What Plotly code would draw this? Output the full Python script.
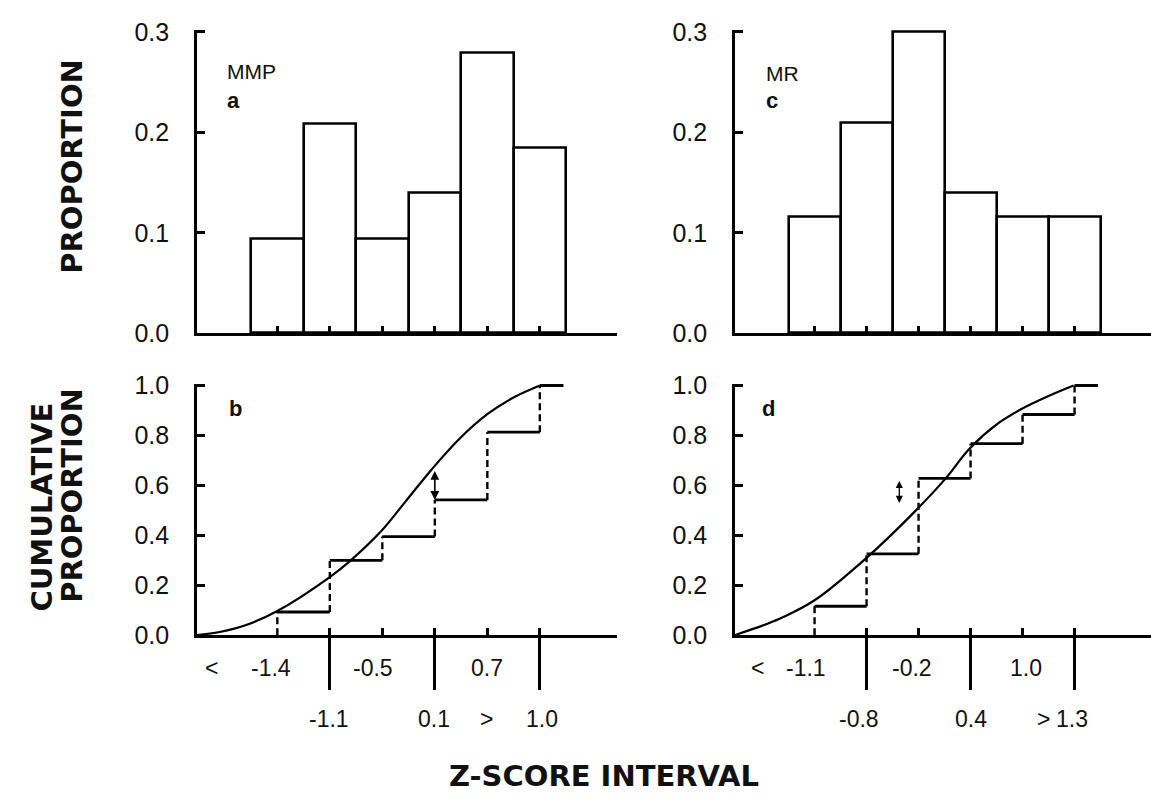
import plotly.graph_objects as go

# ---------------- data ----------------
bins = [0, 1, 2, 3, 4, 5]                      # interval index
mmp_prop = [0.094, 0.208, 0.094, 0.140, 0.279, 0.185]
mr_prop = [0.116, 0.209, 0.300, 0.140, 0.116, 0.116]

mmp_cum = [0.093, 0.300, 0.395, 0.542, 0.813, 1.0]
mr_cum = [0.116, 0.326, 0.628, 0.767, 0.884, 1.0]

# theoretical cumulative curves (in interval units)
mmp_curve_x = [-1.56, -1.1, -0.58, 0.0, 0.98, 1.40, 1.98, 2.44, 2.94, 3.46, 4.0, 4.48, 5.0]
mmp_curve_y = [0.0, 0.013, 0.042, 0.097, 0.23, 0.30, 0.417, 0.535, 0.664, 0.785, 0.885, 0.950, 1.0]
mr_curve_x = [-1.54, -0.92, -0.61, 0.0, 1.0, 1.95, 2.53, 2.97, 3.54, 3.97, 4.5, 4.98]
mr_curve_y = [0.0, 0.045, 0.072, 0.14, 0.31, 0.50, 0.63, 0.745, 0.85, 0.905, 0.958, 1.0]

# maximum deviation markers: [x, lower y, upper y]
mmp_dev = [3.0, 0.542, 0.664]
mr_dev = [1.63, 0.53, 0.624]

# z-score interval labels
mmp_upper_labels = ["<", "-1.4", "-0.5", "0.7"]
mmp_upper_pos = [-1.25, -0.13, 1.83, 4.0]
mmp_lower_labels = ["-1.1", "0.1", ">", "1.0"]
mmp_lower_pos = [0.98, 2.98, 3.98, 5.04]
mr_upper_labels = ["<", "-1.1", "-0.2", "1.0"]
mr_upper_pos = [-1.1, -0.17, 1.87, 4.06]
mr_lower_labels = ["-0.8", "0.4", ">", "1.3"]
mr_lower_pos = [0.85, 3.0, 4.4, 4.95]

# ---------------- figure ----------------
W, H = 1151, 806
BLACK = "#000000"
XR = [-1.53, 6.47]
LEFT_DOM = [197 / W, 617 / W]
RIGHT_DOM = [735 / W, 1.0]
TOP_DOM = [(H - 332) / H, (H - 18.4) / H]
BOT_DOM = [(H - 644) / H, (H - 383.9) / H]
END_EXT = 0.45

fig = go.Figure()

def add_hist(vals, xa, ya):
    fig.add_trace(go.Bar(
        x=bins, y=vals, width=1.0, xaxis=xa, yaxis=ya,
        marker=dict(color="white", line=dict(color=BLACK, width=2.6)),
        showlegend=False, hoverinfo="skip"))

def add_cum(cum, cx, cy, xa, ya):
    hx, hy, vx, vy = [], [], [], []
    prev = 0.0
    for i, c in enumerate(cum):
        vx += [bins[i], bins[i], None]
        vy += [prev, c, None]
        x_end = bins[i + 1] if i + 1 < len(bins) else bins[i] + END_EXT
        hx += [bins[i], x_end, None]
        hy += [c, c, None]
        prev = c
    fig.add_trace(go.Scatter(x=cx, y=cy, mode="lines", xaxis=xa, yaxis=ya,
                             line=dict(color=BLACK, width=2.2, shape="spline", smoothing=1.0),
                             showlegend=False, hoverinfo="skip"))
    fig.add_trace(go.Scatter(x=vx, y=vy, mode="lines", xaxis=xa, yaxis=ya,
                             line=dict(color=BLACK, width=2.4, dash="7px,4px"),
                             showlegend=False, hoverinfo="skip"))
    fig.add_trace(go.Scatter(x=hx, y=hy, mode="lines", xaxis=xa, yaxis=ya,
                             line=dict(color=BLACK, width=2.8),
                             showlegend=False, hoverinfo="skip"))

add_hist(mmp_prop, "x", "y")
add_hist(mr_prop, "x2", "y2")
add_cum(mmp_cum, mmp_curve_x, mmp_curve_y, "x3", "y3")
add_cum(mr_cum, mr_curve_x, mr_curve_y, "x4", "y4")
# empty traces so that the overlay tick axes get drawn
fig.add_trace(go.Scatter(x=[], y=[], xaxis="x5", yaxis="y3", showlegend=False))
fig.add_trace(go.Scatter(x=[], y=[], xaxis="x6", yaxis="y4", showlegend=False))

tickfont = dict(family="Liberation Sans, Arial, sans-serif", size=25, color="#111")

def xax(dom, anchor, ticks, tickvals, ticklen, showline=True, overlay=None):
    d = dict(domain=dom, anchor=anchor, range=XR, showgrid=False, zeroline=False,
             showline=showline, linecolor=BLACK, linewidth=2.6,
             ticks=ticks, tickvals=tickvals, ticklen=ticklen, tickwidth=2.6,
             tickcolor=BLACK, showticklabels=False, fixedrange=True)
    if overlay:
        d["overlaying"] = overlay
        d.pop("domain")
    return d

def yax(dom, anchor, rng, vals, texts):
    return dict(domain=dom, anchor=anchor, range=rng, showgrid=False, zeroline=False,
                showline=True, linecolor=BLACK, linewidth=2.6,
                ticks="inside", tickvals=vals, ticktext=texts, ticklen=8, tickwidth=2.6,
                tickcolor=BLACK, tickfont=tickfont, ticklabelstandoff=20, fixedrange=True)

top_vals = [0, 0.1, 0.2, 0.3]
top_txt = ["0.0", "0.1", "0.2", "0.3"]
bot_vals = [0, 0.2, 0.4, 0.6, 0.8, 1.0]
bot_txt = ["0.0", "0.2", "0.4", "0.6", "0.8", "1.0"]

fig.update_layout(
    width=W, height=H, margin=dict(l=0, r=0, t=0, b=0, pad=0),
    paper_bgcolor="white", plot_bgcolor="rgba(0,0,0,0)",
    bargap=0, showlegend=False,
    xaxis=xax(LEFT_DOM, "y", "inside", bins, 7),
    xaxis2=xax(RIGHT_DOM, "y2", "inside", bins, 7),
    xaxis3=xax(LEFT_DOM, "y3", "outside", [1, 3, 5], 52),
    xaxis4=xax(RIGHT_DOM, "y4", "outside", [1, 3, 5], 52),
    xaxis5=xax(LEFT_DOM, "y3", "inside", [1, 2, 3, 4, 5], 7, showline=False, overlay="x3"),
    xaxis6=xax(RIGHT_DOM, "y4", "inside", [1, 2, 3, 4, 5], 7, showline=False, overlay="x4"),
    yaxis=yax(TOP_DOM, "x", [0, 0.302], top_vals, top_txt),
    yaxis2=yax(TOP_DOM, "x2", [0, 0.302], top_vals, top_txt),
    yaxis3=yax(BOT_DOM, "x3", [0, 1.008], bot_vals, bot_txt),
    yaxis4=yax(BOT_DOM, "x4", [0, 1.008], bot_vals, bot_txt),
)

ann = []
def paper_y(py):
    return (H - py) / H

label_font = dict(family="Liberation Sans, Arial, sans-serif", size=23, color="#111")
for texts, pos, xr, py in [
    (mmp_upper_labels, mmp_upper_pos, "x3", 678),
    (mmp_lower_labels, mmp_lower_pos, "x3", 731),
    (mr_upper_labels, mr_upper_pos, "x4", 678),
    (mr_lower_labels, mr_lower_pos, "x4", 731),
]:
    for t, p in zip(texts, pos):
        ann.append(dict(text=t, x=p, xref=xr, y=paper_y(py), yref="paper",
                        showarrow=False, xanchor="center", yanchor="middle", font=label_font))

# panel labels
reg = dict(family="Liberation Sans, Arial, sans-serif", size=21, color="#111")
bold = dict(family="Liberation Sans, Arial, sans-serif", size=22, color="#111", weight="bold")
def corner(text, px, py, font):
    return dict(text=text, x=px / W, y=paper_y(py), xref="paper", yref="paper",
                showarrow=False, xanchor="left", yanchor="middle", font=font, borderpad=0)
ann += [
    corner("MMP", 226, 62, reg),
    corner("<b>a</b>", 226, 91, bold),
    corner("MR", 765, 64, reg),
    corner("<b>c</b>", 765, 91, bold),
    corner("<b>b</b>", 228, 410, bold),
    corner("<b>d</b>", 761, 410, bold),
]

# axis titles
tfont = dict(family="DejaVu Sans, sans-serif", size=29, color="#111")
def title(text, px, py, angle):
    return dict(text=text, x=px / W, y=paper_y(py), xref="paper", yref="paper",
                showarrow=False, textangle=angle, xanchor="center", yanchor="middle", font=tfont)
ann += [
    title("<b>PROPORTION</b>", 72, 160, -90),
    title("<b>CUMULATIVE</b>", 42, 512, -90),
    title("<b>PROPORTION</b>", 72, 500, -90),
    title("<b>Z-SCORE INTERVAL</b>", 604, 789, 0),
]

# deviation arrows
for dev, xr, yr, w in [(mmp_dev, "x3", "y3", 1.6), (mr_dev, "x4", "y4", 1.3)]:
    ann.append(dict(text="", x=dev[0], y=dev[1], ax=dev[0], ay=dev[2], xref=xr, yref=yr,
                    axref=xr, ayref=yr, showarrow=True, arrowside="end+start",
                    arrowhead=2, arrowsize=1.1, arrowwidth=w, arrowcolor=BLACK,
                    standoff=0, startstandoff=0))

fig.update_layout(annotations=ann)
fig.write_html("out.html", config={"displayModeBar": False},
               post_script="document.body.style.margin='0';document.body.style.overflow='hidden';")
